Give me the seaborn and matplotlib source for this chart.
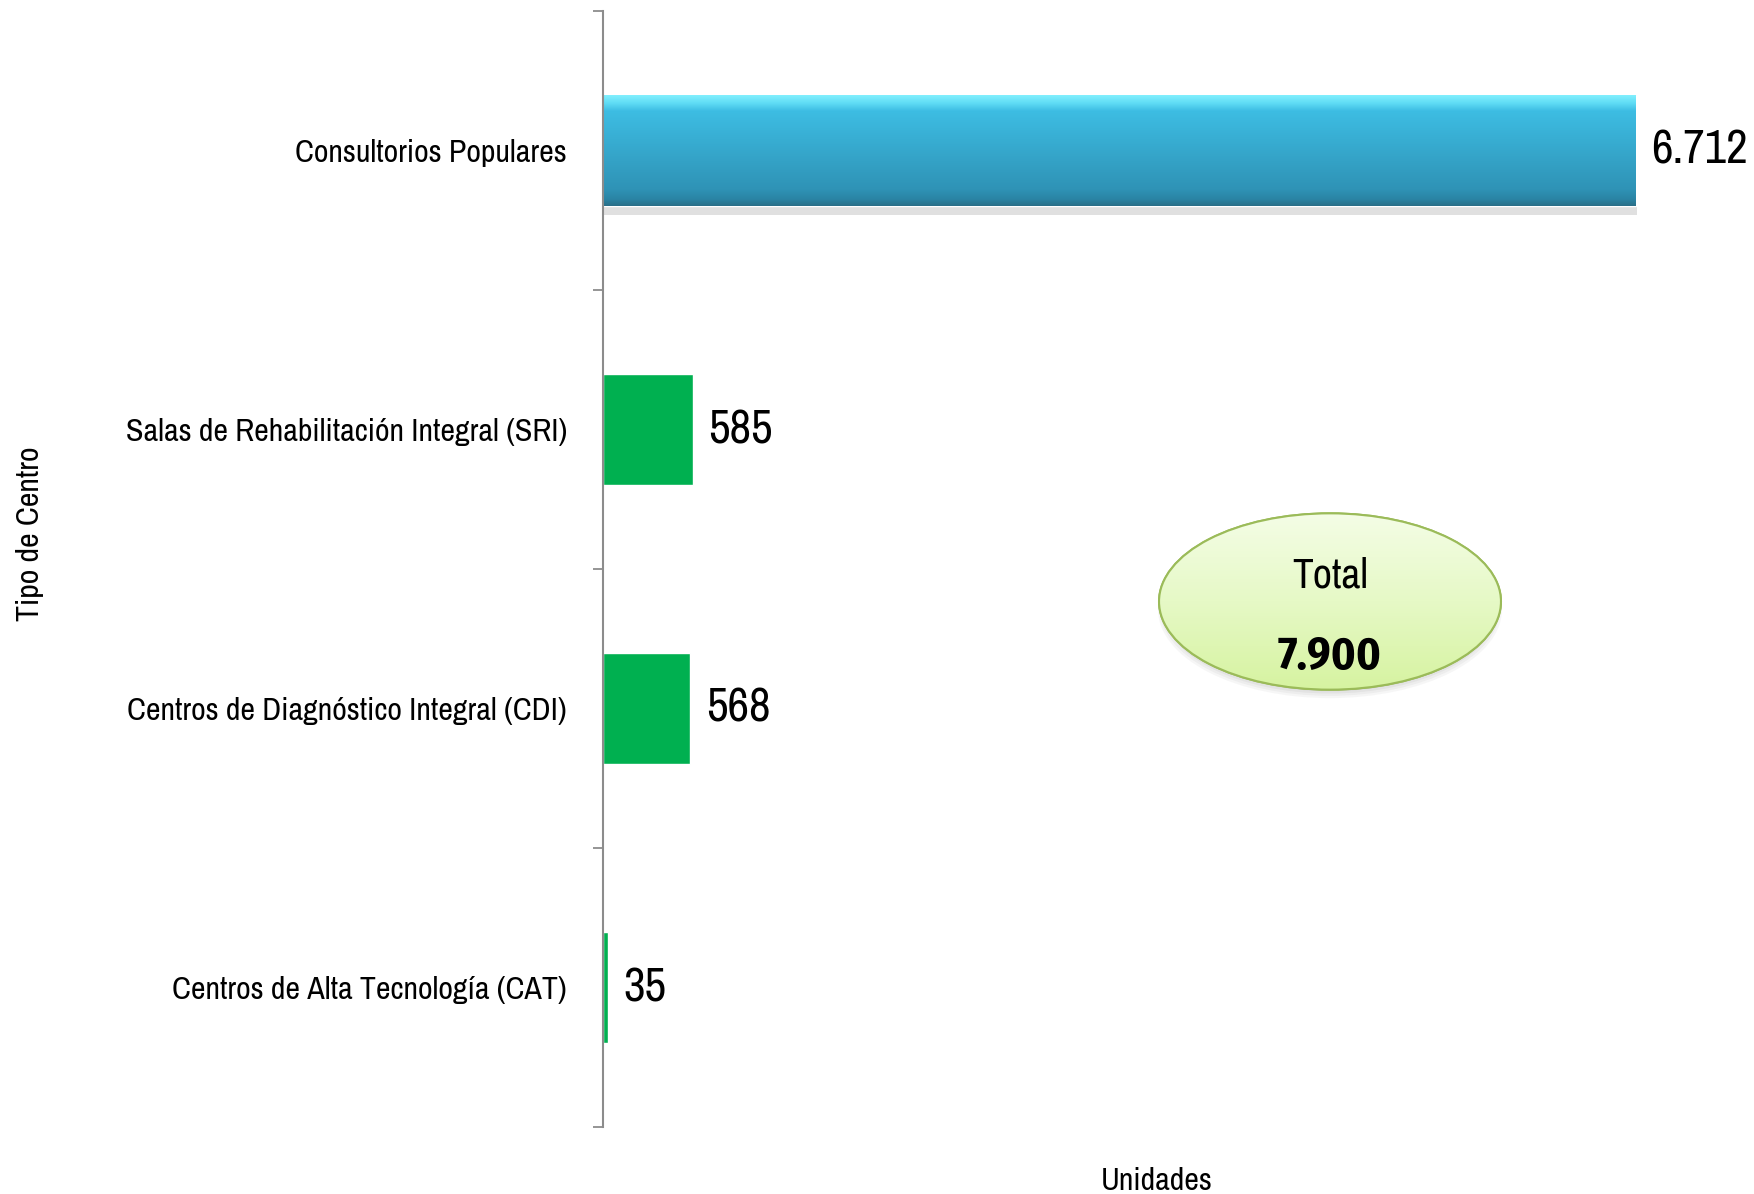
import numpy as np
import pandas as pd
import matplotlib
matplotlib.use("Agg")
import matplotlib.pyplot as plt
import seaborn as sns
from matplotlib.patches import Ellipse
from matplotlib.colors import LinearSegmentedColormap
from matplotlib import patheffects as pe

categories = ["Consultorios Populares",
              "Salas de Rehabilitación Integral (SRI)",
              "Centros de Diagnóstico Integral (CDI)",
              "Centros de Alta Tecnología (CAT)"]
values = [6712, 585, 568, 35]
value_labels = ["6.712", "585", "568", "35"]
bar_colors = ["#3ab4da", "#00b050", "#00b050", "#00b050"]
total_label = "Total"
total_value = "7.900"

sns.set_theme(style="white")
REG = ['Liberation Sans Narrow', 'Archivo Narrow', 'DejaVu Sans']
BOLD = ['Liberation Sans Narrow', 'Fira Sans Condensed', 'DejaVu Sans']
plt.rcParams['font.family'] = REG

W, H = 1754, 1194
fig = plt.figure(figsize=(W / 100, H / 100), dpi=100)
ax_left, ax_right, ax_top, ax_bot = 603, 1711, 11, 1127
ax = fig.add_axes([ax_left / W, 1 - ax_bot / H, (ax_right - ax_left) / W, (ax_bot - ax_top) / H])

df = pd.DataFrame({"cat": categories, "val": values})
sns.barplot(data=df, x="val", y="cat", hue="cat", palette=bar_colors, orient="h",
            width=0.4, dodge=False, legend=False, ax=ax, saturation=1)

# Gradient look for the first bar
bar0 = ax.patches[0]
bar0.set_path_effects([pe.SimplePatchShadow(offset=(1, -6), shadow_rgbFace="#9a9a9a", alpha=0.3),
                       pe.Normal()])
x0, y0 = bar0.get_x(), bar0.get_y()
bw, bh = bar0.get_width(), bar0.get_height()
cmap = LinearSegmentedColormap.from_list("bl", [(0.0, "#86f2ff"), (0.08, "#5fdcf5"), (0.15, "#3dbde3"),
                                                (0.85, "#2f93b6"), (0.94, "#2a84a4"), (1.0, "#2a6f88")])
grad = np.linspace(0, 1, 256).reshape(-1, 1)
im = ax.imshow(grad, cmap=cmap, aspect="auto", extent=[x0, x0 + bw, y0 + bh, y0],
               origin="upper", zorder=bar0.get_zorder() + 0.1)
im.set_clip_path(bar0)
ax.set_xlim(0, 7200)
ax.set_ylim(3.5, -0.5)

for p, lab in zip(ax.patches, value_labels):
    ax.text(p.get_x() + p.get_width() + 100, p.get_y() + p.get_height() / 2, lab,
            va="center", ha="left", fontsize=34, color="black")

# axes styling
for s in ["top", "right", "bottom"]:
    ax.spines[s].set_visible(False)
ax.spines["left"].set_color("#8c8c8c")
ax.spines["left"].set_linewidth(1.5)
ax.set_xticks([])
ax.set_yticks(range(len(categories)))
ax.set_yticklabels(categories, fontsize=23, color="black")
ax.set_yticks([-0.5, 0.5, 1.5, 2.5, 3.5], minor=True)
ax.tick_params(axis="y", which="major", length=0, pad=26)
ax.tick_params(axis="y", which="minor", length=7, width=1.3, color="#8c8c8c", left=True)

ax.set_xlabel("Unidades", fontsize=23, color="black")
ax.xaxis.set_label_coords(0.5, (ax_bot - 1167) / (ax_bot - ax_top))
ax.set_ylabel("Tipo de Centro", fontsize=23, color="black")
ax.yaxis.set_label_coords((44 - ax_left) / (ax_right - ax_left), (ax_bot - 534) / (ax_bot - ax_top))

# Total ellipse
ex0, ey0, ew, eh = 1158, 512, 344, 179
eax = fig.add_axes([ex0 / W, 1 - (ey0 + eh) / H, ew / W, eh / H])
eax.set_xlim(0, 1)
eax.set_ylim(0, 1)
eax.axis("off")
for k, a in enumerate([0.05, 0.06, 0.07, 0.08]):
    sh = Ellipse((0.5, 0.5 - 0.045 + 0.008 * k), 1.0 - 0.01 * k, 0.99 - 0.01 * k, facecolor="#606060",
                 edgecolor="none", alpha=a, clip_on=False, zorder=1)
    eax.add_patch(sh)
ell = Ellipse((0.5, 0.5), 0.994, 0.985, facecolor="#e6f8c4", edgecolor="#9bbb59", linewidth=1.5,
              zorder=2, clip_on=False)
eax.add_patch(ell)
gcmap = LinearSegmentedColormap.from_list("gr", ["#f4fde6", "#e6f9c6", "#d6f3a0"])
gim = eax.imshow(np.linspace(0, 1, 256).reshape(-1, 1), cmap=gcmap, aspect="auto",
                 extent=[0, 1, 0, 1], origin="upper", zorder=2.5)
gim.set_clip_path(ell)
eax.set_xlim(0, 1)
eax.set_ylim(0, 1)
ell2 = Ellipse((0.5, 0.5), 0.994, 0.985, facecolor="none", edgecolor="#9bbb59", linewidth=1.5,
               zorder=3, clip_on=False)
eax.add_patch(ell2)
fig.text(1330 / W, 1 - 575 / H, total_label, ha="center", va="center", fontsize=30, color="black")
fig.text(1330 / W, 1 - 657 / H, total_value, ha="center", va="center", fontsize=33,
         fontweight="bold", color="black", family=BOLD)

fig.savefig("out.png", dpi=100, facecolor="white")
